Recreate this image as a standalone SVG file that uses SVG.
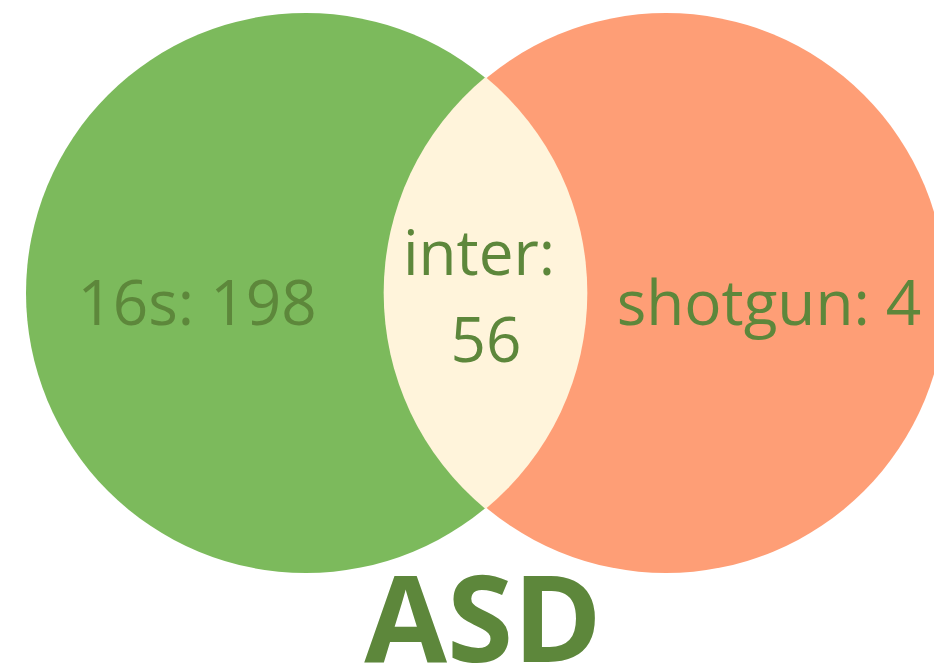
<svg xmlns="http://www.w3.org/2000/svg" width="934" height="665" viewBox="0 0 934 665">
<style>
.lbl{font-family:"Open Sans","Noto Sans",sans-serif;fill:#5d873b;text-anchor:middle}
</style>
<rect width="934" height="665" fill="#ffffff"/>
<g id="set-16s"><circle cx="306" cy="293" r="280" fill="#7cba5c"/></g>
<g id="set-shotgun"><circle cx="666" cy="293" r="280" fill="#fe9e76"/></g>
<g id="intersection"><path d="M485.5 77 A280 280 0 0 0 485.5 509 A280 280 0 0 0 485.5 77 Z" fill="#fff4db"/></g>
<g id="labels">
<text class="lbl" x="197" y="325" font-size="62">16s: 198</text>
<text class="lbl" x="479" y="275" font-size="62">inter:</text>
<text class="lbl" x="486" y="362" font-size="62">56</text>
<text class="lbl" x="769" y="325" font-size="62">shotgun: 4</text>
<text class="lbl" x="483" y="662" font-size="120" font-weight="bold">ASD</text>
</g>
</svg>
